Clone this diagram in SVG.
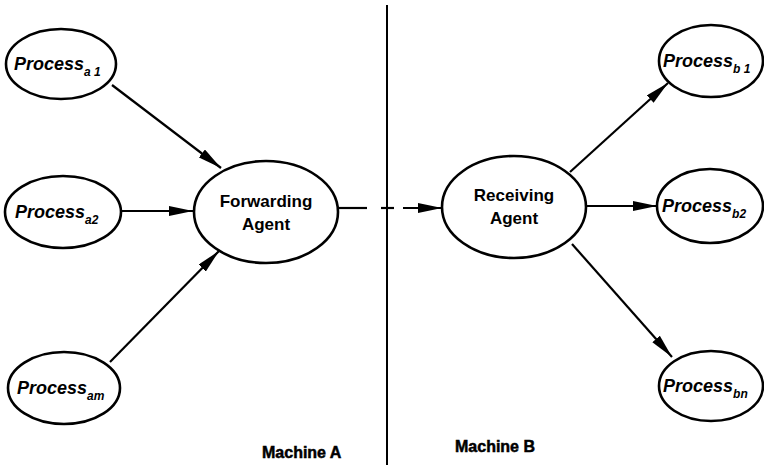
<svg xmlns="http://www.w3.org/2000/svg" width="764" height="465" viewBox="0 0 764 465">
  <style>
    .node ellipse { fill: #fff; stroke: #000; stroke-width: 2.6; }
    .proc { font-family: "Liberation Sans", Arial, sans-serif; font-style: italic; font-weight: bold; font-size: 18px; fill: #000; }
    .sub { font-size: 12px; }
    .agent { font-family: "Liberation Sans", Arial, sans-serif; font-weight: bold; font-size: 17px; fill: #000; text-anchor: middle; }
    .machine { font-family: "Liberation Sans", Arial, sans-serif; font-weight: bold; font-size: 16px; fill: #000; stroke: #000; stroke-width: 0.5; }
    .edge { stroke: #000; stroke-width: 2.2; fill: none; }
  </style>
  <defs>
    <marker id="arrow" viewBox="0 0 24 10" refX="24" refY="5" markerWidth="24" markerHeight="10" markerUnits="userSpaceOnUse" orient="auto">
      <path d="M0,0 L24,5 L0,10 Z" fill="#000"/>
    </marker>
  </defs>

  <rect width="764" height="465" fill="#fff"/>

  <!-- machine boundary -->
  <line x1="387" y1="5" x2="387" y2="465" stroke="#000" stroke-width="2"/>

  <g id="connectors">
    <line class="edge" x1="112" y1="85" x2="221" y2="168" marker-end="url(#arrow)"/>
    <line class="edge" x1="121" y1="211" x2="193" y2="211" marker-end="url(#arrow)"/>
    <line class="edge" x1="110" y1="362" x2="219" y2="251" marker-end="url(#arrow)"/>
    <line class="edge" x1="338" y1="208" x2="367" y2="208"/>
    <line class="edge" x1="381" y1="208" x2="394" y2="208"/>
    <line class="edge" x1="403" y1="208" x2="442" y2="208" marker-end="url(#arrow)"/>
    <line class="edge" x1="570" y1="172" x2="668" y2="83" marker-end="url(#arrow)"/>
    <line class="edge" x1="586" y1="206" x2="657" y2="206" marker-end="url(#arrow)"/>
    <line class="edge" x1="572" y1="244" x2="672" y2="357" marker-end="url(#arrow)"/>
  </g>

  <g id="process-a1" class="node">
    <ellipse cx="61" cy="64" rx="55" ry="35"/>
    <text class="proc" x="14" y="70">Process<tspan class="sub" dy="6">a 1</tspan></text>
  </g>
  <g id="process-a2" class="node">
    <ellipse cx="63" cy="212" rx="58" ry="36"/>
    <text class="proc" x="15" y="218">Process<tspan class="sub" dy="6">a2</tspan></text>
  </g>
  <g id="process-am" class="node">
    <ellipse cx="64" cy="388" rx="56" ry="36"/>
    <text class="proc" x="17" y="394">Process<tspan class="sub" dy="6">am</tspan></text>
  </g>

  <g id="forwarding-agent" class="node">
    <ellipse cx="266" cy="212" rx="72" ry="51"/>
    <text class="agent" x="266" y="207">Forwarding</text>
    <text class="agent" x="266" y="230">Agent</text>
  </g>
  <g id="receiving-agent" class="node">
    <ellipse cx="514" cy="207" rx="72" ry="51"/>
    <text class="agent" x="514" y="201">Receiving</text>
    <text class="agent" x="514" y="224">Agent</text>
  </g>

  <g id="process-b1" class="node">
    <ellipse cx="711" cy="61" rx="52" ry="36"/>
    <text class="proc" x="663" y="67">Process<tspan class="sub" dy="6">b 1</tspan></text>
  </g>
  <g id="process-b2" class="node">
    <ellipse cx="710" cy="206" rx="53" ry="37"/>
    <text class="proc" x="662" y="212">Process<tspan class="sub" dy="6">b2</tspan></text>
  </g>
  <g id="process-bn" class="node">
    <ellipse cx="711" cy="386" rx="52" ry="35"/>
    <text class="proc" x="663" y="392">Process<tspan class="sub" dy="6">bn</tspan></text>
  </g>

  <text class="machine" x="262" y="458">Machine A</text>
  <text class="machine" x="455" y="452">Machine B</text>
</svg>
